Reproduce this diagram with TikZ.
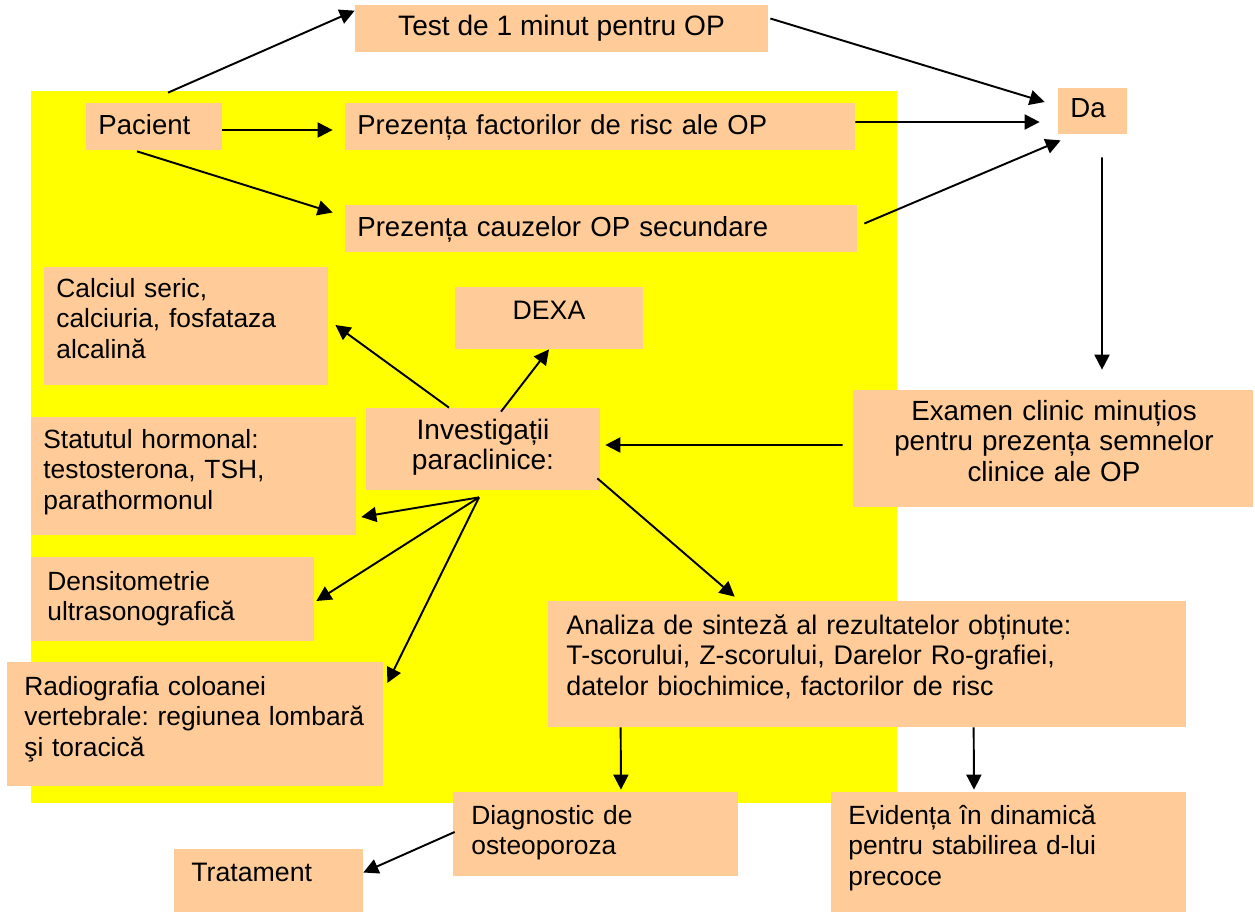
\documentclass[tikz,border=0pt]{standalone}
\usepackage{fontspec}
\setmainfont{Liberation Sans}
\usetikzlibrary{arrows.meta,calc,fit}
\definecolor{panel}{HTML}{FFFF00}
\definecolor{peach}{HTML}{FFCC99}
\frenchspacing
\begin{document}
\begin{tikzpicture}[x=0.02cm,y=-0.02cm,
  box/.style={fill=peach,draw=none,inner sep=0pt,rectangle},
  txt/.style={inner sep=0pt,font=\fontsize{#1}{17.6pt}\selectfont},
  txt/.default=16pt,
  ltxt/.style={txt=#1,anchor=base west,text width=11cm,align=left},
  ltxt/.default=15pt,
  ctxt/.style={txt=#1,anchor=base,text width=9cm,align=center},
  ctxt/.default=16pt,
  arr/.style={-{Triangle[length=0.3cm,width=0.3cm]},line width=1.1pt,black}]
\useasboundingbox (0,0) rectangle (1255,913);

% yellow panel behind the investigation steps
\fill[panel] (31,91) rectangle (897,803);

% boxes
\node[box,fit={(355,5)(768,52)}] (test) {};
\node[box,fit={(1058,88)(1127,134)}] (da) {};
\node[box,fit={(86,103)(222,150)}] (pac) {};
\node[box,fit={(345,103)(855,150)}] (fact) {};
\node[box,fit={(345,205)(857,252)}] (caus) {};
\node[box,fit={(44,267)(328,385)}] (calc) {};
\node[box,fit={(455,287)(643,349)}] (dexa) {};
\node[box,fit={(31,417)(356,535)}] (stat) {};
\node[box,fit={(366,408)(600,490)}] (inv) {};
\node[box,fit={(853,390)(1253,507)}] (exam) {};
\node[box,fit={(31,557)(314,641)}] (dens) {};
\node[box,fit={(7,662)(383,786)}] (radio) {};
\node[box,fit={(548,601)(1186,727)}] (an) {};
\node[box,fit={(453,792)(738,876)}] (diag) {};
\node[box,fit={(831,792)(1186,912)}] (evid) {};
\node[box,fit={(174,849)(363,912)}] (trat) {};

% texts
\node[txt,anchor=base] (test-t) at (561.5,35) {Test de 1 minut pentru OP};
\node[ltxt=15.7pt] (da-t) at (1070,117) {Da};
\node[ltxt=15.7pt] (pac-t) at (98,134) {Pacient};
\node[ltxt=15.6pt] (fact-t) at (357,134) {Prezența factorilor de risc ale OP};
\node[ltxt=15.7pt] (caus-t) at (357,236) {Prezența cauzelor OP secundare};
\node[ltxt] (calc-t) at (56,297) {Calciul seric,\\calciuria, fosfataza\\alcalină};
\node[txt=15.2pt,anchor=base] (dexa-t) at (549,319) {DEXA};
\node[ltxt] (stat-t) at (43,448) {Statutul hormonal:\\testosterona, TSH,\\parathormonul};
\node[ctxt] (inv-t) at (483,439) {Investigații\\paraclinice:};
\node[ctxt=15.8pt] (exam-t) at (1054,420) {Examen clinic minuțios\\pentru prezența semnelor\\clinice ale OP};
\node[ltxt] (dens-t) at (47,590) {Densitometrie\\ultrasonografică};
\node[ltxt] (radio-t) at (24,695) {Radiografia coloanei\\vertebrale: regiunea lombară\\şi toracică};
\node[ltxt=15.3pt] (an-t) at (566,634) {Analiza de sinteză al rezultatelor obținute:\\T-scorului, Z-scorului, Darelor Ro-grafiei,\\datelor biochimice, factorilor de risc};
\node[ltxt] (diag-t) at (471,824) {Diagnostic de\\osteoporoza};
\node[ltxt] (evid-t) at (848,824) {Evidența în dinamică\\pentru stabilirea d-lui\\precoce};
\node[ltxt=15.2pt] (trat-t) at (191,881) {Tratament};

% connectors
\draw[arr] ($(pac.north)+(14,-10)$) -- ($(test.north west)+(0,6)$);
\draw[arr] ($(test.east)+(2,-10)$) -- ($(da.west)+(-13,-9)$);
\draw[arr] ($(pac.east)+(0,3.5)$) -- ($(fact.west)+(-12,3.5)$);
\draw[arr] ($(fact.east)+(0,-4.5)$) -- ($(da.west)+(-18,11)$);
\draw[arr] ($(caus.east)+(7,-5)$) -- ($(da.south west)+(3,6)$);
\draw[arr] ($(pac.south)+(-17,1)$) -- ($(caus.west)+(-12,-16)$);
\draw[arr] ($(da.south)+(9.5,23)$) -- ($(exam.north)+(49,-20)$);
\draw[arr] ($(exam.west)+(-10,-3.5)$) -- ($(inv.east)+(5,-4)$);
\draw[arr] ($(inv.north)+(-34,0)$) -- ($(calc.east)+(7,-1)$);
\draw[arr] ($(inv.north)+(18,4)$) -- (dexa.south);
\draw[arr] ($(inv.south)+(-4,7)$) -- ($(stat.east)+(5,41)$);
\draw[arr] ($(inv.south)+(-4,7)$) -- ($(dens.east)+(2,2)$);
\draw[arr] ($(inv.south)+(-4,7)$) -- ($(radio.east)+(4,-41)$);
\draw[arr] ($(inv.south east)+(-3,-12)$) -- ($(an.north west)+(187,-4)$);
\draw[arr] ($(an.south west)+(73,0)$) -- ($(diag.north)+(25.5,-2)$);
\draw[arr] ($(an.south west)+(426,0)$) -- ($(evid.north)+(-34.5,-2)$);
\draw[arr] ($(diag.west)+(2,-2)$) -- ($(trat.east)+(0,-8)$);
\end{tikzpicture}
\end{document}
